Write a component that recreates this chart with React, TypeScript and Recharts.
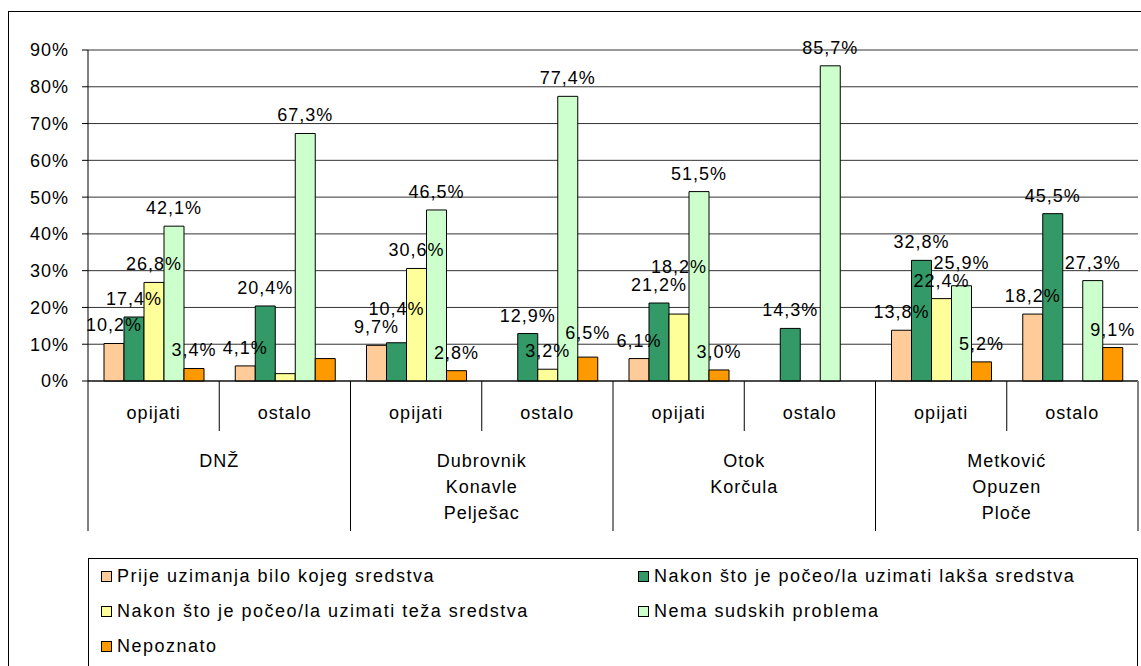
import React from "react";
import {
  BarChart,
  Bar,
  XAxis,
  YAxis,
  CartesianGrid,
  Legend,
  LabelList,
} from "recharts";

const FONT = "'Liberation Sans', Arial, sans-serif";

// sub-category under each bar group, and region labels (one per pair)
const subLabels = ["opijati", "ostalo", "opijati", "ostalo", "opijati", "ostalo", "opijati", "ostalo"];
const groupLabels = [
  ["DNŽ"],
  ["Dubrovnik", "Konavle", "Pelješac"],
  ["Otok", "Korčula"],
  ["Metković", "Opuzen", "Ploče"],
];

const seriesNames = [
  "Prije uzimanja bilo kojeg sredstva",
  "Nakon što je počeo/la uzimati lakša sredstva",
  "Nakon što je počeo/la uzimati teža sredstva",
  "Nema sudskih problema",
  "Nepoznato",
];
const seriesColors = ["#FFCC99", "#339966", "#FFFF99", "#CCFFCC", "#FF9900"];

const prije = [10.2, 4.1, 9.7, null, 6.1, null, 13.8, 18.2];
const laksa = [17.4, 20.4, 10.4, 12.9, 21.2, 14.3, 32.8, 45.5];
const teza = [26.8, 2.0, 30.6, 3.2, 18.2, null, 22.4, null];
const nema = [42.1, 67.3, 46.5, 77.4, 51.5, 85.7, 25.9, 27.3];
const nepoznato = [3.4, 6.1, 2.8, 6.5, 3.0, null, 5.2, 9.1];

// labels that are not shown in the original: [category index, series index]
const hiddenLabels = [
  [1, 2],
  [1, 4],
];

const yTicks = [0, 10, 20, 30, 40, 50, 60, 70, 80, 90];

const allSeries = [prije, laksa, teza, nema, nepoznato];

const data = subLabels.map((sub, i) => {
  const row: Record<string, any> = { name: `${sub}-${i}`, sub };
  allSeries.forEach((s, k) => {
    row[`s${k}`] = s[i];
  });
  return row;
});

const W = 1141;
const H = 666;
const LEFT = 88;
const RIGHT = 3;
const HALF_BAND = (W - LEFT - RIGHT) / subLabels.length / 2;
const LABEL_GAP = 12;
const LABEL_H = 16;

function fmt(v: number) {
  return v.toFixed(1).replace(".", ",") + "%";
}

function isHidden(i: number, k: number) {
  return hiddenLabels.some(([ci, sk]) => ci === i && sk === k);
}

// category of a bar, from where the library put it
function categoryOf(x: number) {
  return Math.floor((x - LEFT) / (2 * HALF_BAND));
}

// lay out the labels of one category left to right, lifting a label
// above an earlier one when they would collide
function labelBaseline(k: number, idx: number, props: any) {
  const { x, y, width, height, value } = props;
  const unit = height / value;
  const baseY = y + height;
  const placed: { cx: number; w: number; b: number }[] = [];
  let mine = y - LABEL_GAP;
  for (let j = 0; j <= k; j++) {
    const v = allSeries[j][idx];
    if (v == null || isHidden(idx, j)) continue;
    const cx = x + width / 2 + (j - k) * width;
    const w = fmt(v).length * 11;
    let b = baseY - v * unit - LABEL_GAP;
    let moved = true;
    while (moved) {
      moved = false;
      for (const p of placed) {
        const hOver = Math.abs(p.cx - cx) < (p.w + w) / 2;
        const vOver = Math.min(b, p.b) - Math.max(b - LABEL_H, p.b - LABEL_H) > 2;
        if (hOver && vOver) {
          b = p.b - LABEL_H - 2;
          moved = true;
        }
      }
    }
    placed.push({ cx, w, b });
    if (j === k) mine = b;
  }
  return mine;
}

function CategoryTick(props: any) {
  const { x, y, payload } = props;
  const i = payload.index;
  const even = i % 2 === 0;
  const group = groupLabels[Math.floor(i / 2)];
  return (
    <g>
      <text
        x={x}
        y={y + 38}
        textAnchor="middle"
        fontSize={18}
        letterSpacing={1}
        fill="#000"
        fontFamily={FONT}
      >
        {subLabels[i]}
      </text>
      {even && (
        <line x1={x + HALF_BAND} x2={x + HALF_BAND} y1={y} y2={y + 50} stroke="#000" />
      )}
      {even && (
        <line x1={x - HALF_BAND} x2={x - HALF_BAND} y1={y} y2={y + 150} stroke="#000" />
      )}
      {i === subLabels.length - 1 && (
        <line x1={x + HALF_BAND} x2={x + HALF_BAND} y1={y} y2={y + 150} stroke="#808080" strokeWidth={2} />
      )}
      {even &&
        group.map((line, k) => (
          <text
            key={k}
            x={x + HALF_BAND}
            y={y + 86 + k * 26}
            textAnchor="middle"
            fontSize={18}
            letterSpacing={1}
            fill="#000"
            fontFamily={FONT}
          >
            {line}
          </text>
        ))}
    </g>
  );
}

function makeLabel(k: number) {
  return (props: any) => {
    const { x, width, value } = props;
    if (value == null || !value) return null;
    const idx = categoryOf(x + width / 2);
    if (isHidden(idx, k)) return null;
    return (
      <text
        x={x + width / 2}
        y={labelBaseline(k, idx, props)}
        textAnchor="middle"
        fontSize={18}
        letterSpacing={1}
        fill="#000"
        fontFamily={FONT}
      >
        {fmt(value)}
      </text>
    );
  };
}

function LegendBox() {
  return (
    <div
      style={{
        width: 1050,
        height: 120,
        border: "1px solid #000",
        boxSizing: "border-box",
        position: "relative",
        fontFamily: FONT,
        fontSize: 18,
        letterSpacing: 1.5,
        color: "#000",
      }}
    >
      {seriesNames.map((name, k) => (
        <div
          key={name}
          style={{
            position: "absolute",
            left: k % 2 === 0 ? 12 : 549,
            top: 6 + Math.floor(k / 2) * 35,
            height: 22,
            display: "flex",
            alignItems: "center",
            whiteSpace: "nowrap",
          }}
        >
          <span
            style={{
              display: "inline-block",
              width: 9,
              height: 9,
              border: "1px solid #000",
              background: seriesColors[k],
              marginRight: 5,
            }}
          />
          {name}
        </div>
      ))}
    </div>
  );
}

export default function App() {
  return (
    <div
      style={{
        position: "absolute",
        left: 0,
        top: 0,
        width: W,
        height: H,
        overflow: "hidden",
        background: "#fff",
        fontFamily: FONT,
      }}
    >
      <div
        style={{
          position: "absolute",
          left: 8,
          top: 11,
          width: 1200,
          height: 700,
          border: "1px solid #000",
        }}
      />
      <div style={{ position: "absolute", left: 0, top: 0 }}>
        <BarChart
          width={W}
          height={H}
          data={data}
          margin={{ top: 50, right: RIGHT, left: 8, bottom: 15 }}
          barGap={0}
          barSize={20}
        >
          <CartesianGrid vertical={false} stroke="#333" />
          <YAxis
            domain={[0, 90]}
            ticks={yTicks}
            tickFormatter={(v) => `${v}%`}
            width={80}
            tickSize={6}
            tickMargin={13}
            axisLine={{ stroke: "#000" }}
            tickLine={{ stroke: "#000" }}
            tick={{ fontSize: 18, fill: "#000", fontFamily: FONT, letterSpacing: 1 }}
            interval={0}
          />
          <YAxis
            yAxisId="right"
            orientation="right"
            width={0}
            tick={false}
            tickLine={false}
            axisLine={{ stroke: "#808080", strokeWidth: 2 }}
          />
          <XAxis
            dataKey="name"
            height={150}
            interval={0}
            tickSize={0}
            tickMargin={0}
            axisLine={{ stroke: "#000" }}
            tickLine={false}
            tick={<CategoryTick />}
          />
          <Legend
            content={() => <LegendBox />}
            wrapperStyle={{ top: 558, left: 88, width: 1050, height: 120 }}
          />
          {seriesNames.map((name, k) => (
            <Bar
              key={name}
              name={name}
              dataKey={`s${k}`}
              fill={seriesColors[k]}
              stroke="#000"
              strokeWidth={1}
              isAnimationActive={false}
            >
              <LabelList dataKey={`s${k}`} content={makeLabel(k)} />
            </Bar>
          ))}
        </BarChart>
      </div>
    </div>
  );
}
